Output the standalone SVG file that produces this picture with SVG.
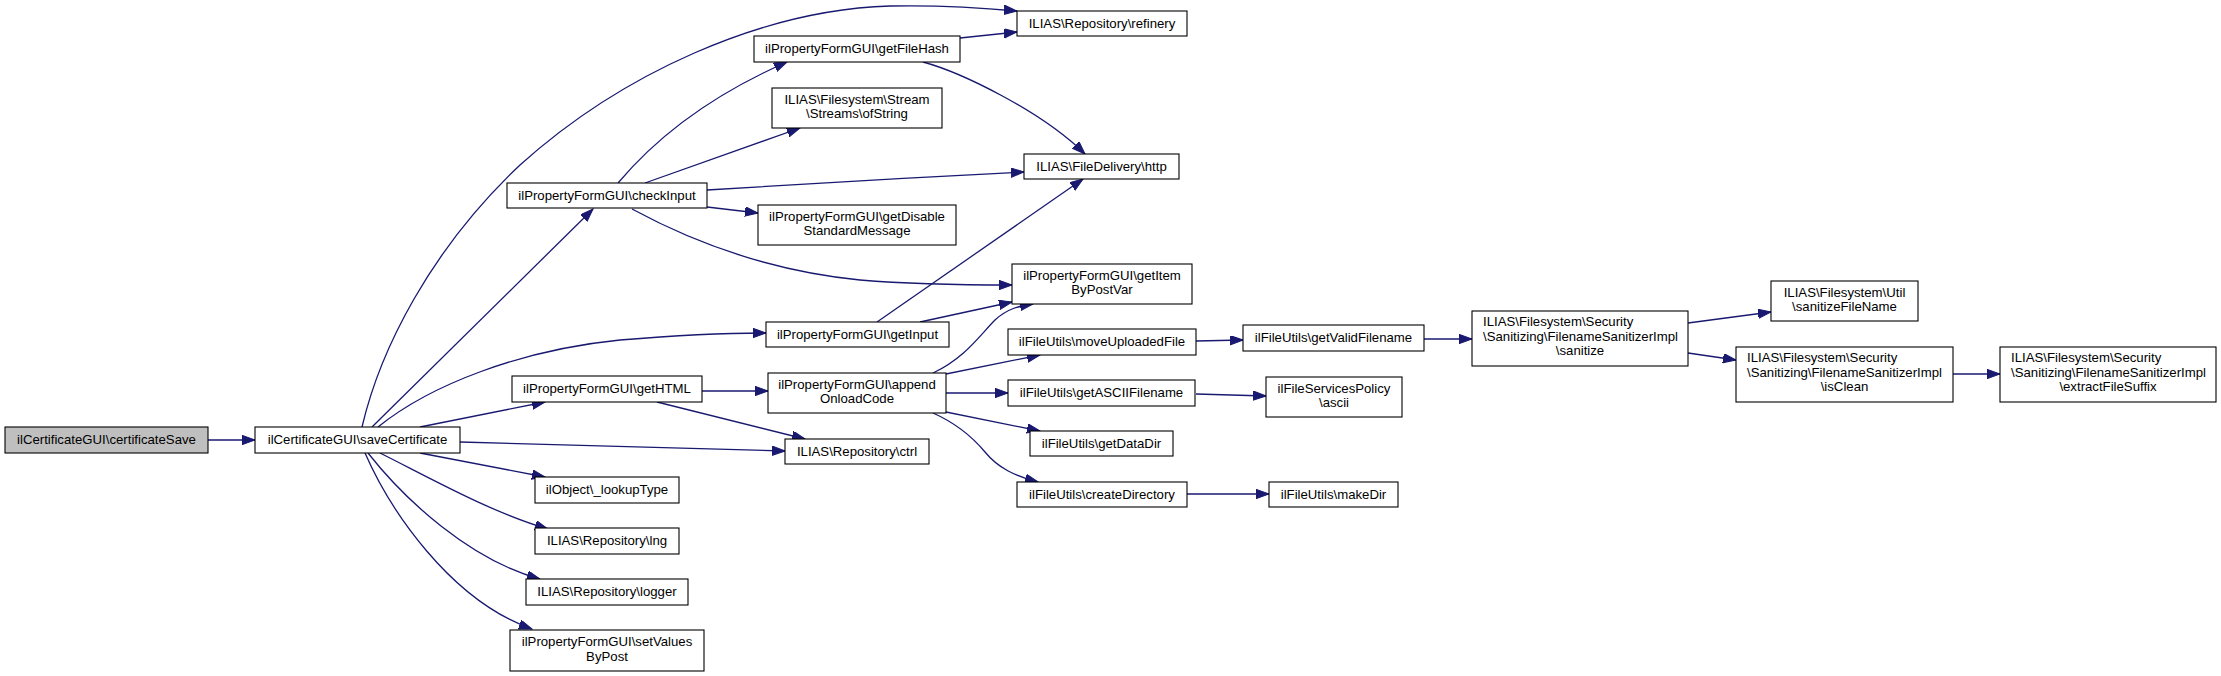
<svg xmlns="http://www.w3.org/2000/svg" width="2221" height="676" viewBox="0 0 2221 676">
<style>
.n rect{fill:#fff;stroke:#000;stroke-width:1.1}
.n.root rect{fill:#bfbfbf}
.n text{font-family:"Liberation Sans",Arial,sans-serif;font-size:13.2px;fill:#000;text-anchor:middle}
.n text.l{text-anchor:start}
#edges path{fill:none;stroke:#191970;stroke-width:1.3;marker-end:url(#ah)}
</style>
<defs>
<marker id="ah" markerWidth="14" markerHeight="10" refX="13" refY="4.7" orient="auto" markerUnits="userSpaceOnUse"><path d="M0,0 L13,4.7 L0,9.4 z" fill="#191970" stroke="#191970" stroke-width="1"/></marker>
</defs>
<rect width="2221" height="676" fill="#fff"/>
<g id="edges">
<path d="M208,440 L255,440"/>
<path d="M362,427 C380,350 430,250 520,165 C620,75 760,10 890,6 C940,5 985,8 1017,11"/>
<path d="M372,427 L593,209"/>
<path d="M378,427 C430,385 520,350 620,340 C680,335 730,333 766,333"/>
<path d="M420,427 L545,402"/>
<path d="M460,442 C600,445 700,449 785,451"/>
<path d="M420,453 L545,477"/>
<path d="M380,453 C430,478 490,512 548,529"/>
<path d="M368,453 C405,500 470,560 540,579"/>
<path d="M365,453 C390,510 450,600 532,629"/>
<path d="M618,183 C650,145 700,100 787,62"/>
<path d="M645,183 L800,128"/>
<path d="M707,190 C800,184 920,177 1024,172"/>
<path d="M707,207 L758,213"/>
<path d="M632,209 C680,235 760,270 860,280 C920,285 970,285 1012,285"/>
<path d="M960,38 L1017,32"/>
<path d="M923,62 C960,72 1040,110 1085,154"/>
<path d="M877,322 L1083,179"/>
<path d="M920,322 L1012,302"/>
<path d="M933,373 C965,358 980,335 995,320 C1008,308 1020,306 1033,304"/>
<path d="M702,391 L768,391"/>
<path d="M657,402 L805,439"/>
<path d="M946,374 L1040,355"/>
<path d="M946,393 L1008,393"/>
<path d="M946,412 L1040,431"/>
<path d="M933,413 C960,425 975,440 985,452 C998,468 1015,476 1038,482"/>
<path d="M1196,341 L1243,340"/>
<path d="M1424,339 L1472,339"/>
<path d="M1196,394 L1266,396"/>
<path d="M1187,494 L1269,494"/>
<path d="M1688,323 L1771,312"/>
<path d="M1688,353 L1736,360"/>
<path d="M1953,374 L2000,374"/>
</g>
<g id="n0" class="n root"><rect x="5" y="427" width="203" height="26"/><text x="106.5" y="444">ilCertificateGUI\certificateSave</text></g>
<g id="n1" class="n"><rect x="255" y="427" width="205" height="26"/><text x="357.5" y="444">ilCertificateGUI\saveCertificate</text></g>
<g id="n2" class="n"><rect x="1017" y="11" width="170" height="25"/><text x="1102" y="27.5">ILIAS\Repository\refinery</text></g>
<g id="n3" class="n"><rect x="754" y="36" width="206" height="26"/><text x="857" y="53">ilPropertyFormGUI\getFileHash</text></g>
<g id="n4" class="n"><rect x="772" y="88" width="170" height="40"/><text x="857" y="103.6">ILIAS\Filesystem\Stream</text><text x="857" y="118.1">\Streams\ofString</text></g>
<g id="n5" class="n"><rect x="1024" y="154" width="155" height="25"/><text x="1101.5" y="170.5">ILIAS\FileDelivery\http</text></g>
<g id="n6" class="n"><rect x="758" y="205" width="198" height="40"/><text x="857" y="220.6">ilPropertyFormGUI\getDisable</text><text x="857" y="235.1">StandardMessage</text></g>
<g id="n7" class="n"><rect x="1012" y="264" width="180" height="40"/><text x="1102" y="279.6">ilPropertyFormGUI\getItem</text><text x="1102" y="294.1">ByPostVar</text></g>
<g id="n8" class="n"><rect x="507" y="183" width="200" height="25"/><text x="607" y="199.5">ilPropertyFormGUI\checkInput</text></g>
<g id="n9" class="n"><rect x="766" y="322" width="183" height="25"/><text x="857.5" y="338.5">ilPropertyFormGUI\getInput</text></g>
<g id="n10" class="n"><rect x="512" y="376" width="190" height="26"/><text x="607" y="393">ilPropertyFormGUI\getHTML</text></g>
<g id="n11" class="n"><rect x="768" y="373" width="178" height="40"/><text x="857" y="388.6">ilPropertyFormGUI\append</text><text x="857" y="403.1">OnloadCode</text></g>
<g id="n12" class="n"><rect x="785" y="439" width="144" height="25"/><text x="857" y="455.5">ILIAS\Repository\ctrl</text></g>
<g id="n13" class="n"><rect x="535" y="477" width="144" height="26"/><text x="607" y="494">ilObject\_lookupType</text></g>
<g id="n14" class="n"><rect x="535" y="528" width="144" height="26"/><text x="607" y="545">ILIAS\Repository\lng</text></g>
<g id="n15" class="n"><rect x="526" y="579" width="162" height="26"/><text x="607" y="596">ILIAS\Repository\logger</text></g>
<g id="n16" class="n"><rect x="510" y="630" width="194" height="41"/><text x="607" y="646.1">ilPropertyFormGUI\setValues</text><text x="607" y="660.6">ByPost</text></g>
<g id="n17" class="n"><rect x="1008" y="329" width="188" height="26"/><text x="1102" y="346">ilFileUtils\moveUploadedFile</text></g>
<g id="n18" class="n"><rect x="1008" y="380" width="187" height="26"/><text x="1101.5" y="397">ilFileUtils\getASCIIFilename</text></g>
<g id="n19" class="n"><rect x="1030" y="431" width="143" height="25"/><text x="1101.5" y="447.5">ilFileUtils\getDataDir</text></g>
<g id="n20" class="n"><rect x="1017" y="482" width="170" height="25"/><text x="1102" y="498.5">ilFileUtils\createDirectory</text></g>
<g id="n21" class="n"><rect x="1243" y="325" width="181" height="26"/><text x="1333.5" y="342">ilFileUtils\getValidFilename</text></g>
<g id="n22" class="n"><rect x="1266" y="377" width="136" height="40"/><text x="1334" y="392.6">ilFileServicesPolicy</text><text x="1334" y="407.1">\ascii</text></g>
<g id="n23" class="n"><rect x="1269" y="482" width="129" height="25"/><text x="1333.5" y="498.5">ilFileUtils\makeDir</text></g>
<g id="n24" class="n"><rect x="1472" y="311" width="216" height="55"/><text class="l" x="1483" y="326">ILIAS\Filesystem\Security</text><text class="l" x="1483" y="340.5">\Sanitizing\FilenameSanitizerImpl</text><text x="1580" y="355">\sanitize</text></g>
<g id="n25" class="n"><rect x="1771" y="281" width="147" height="40"/><text x="1844.5" y="296.6">ILIAS\Filesystem\Util</text><text x="1844.5" y="311.1">\sanitizeFileName</text></g>
<g id="n26" class="n"><rect x="1736" y="347" width="217" height="55"/><text class="l" x="1747" y="362">ILIAS\Filesystem\Security</text><text class="l" x="1747" y="376.5">\Sanitizing\FilenameSanitizerImpl</text><text x="1844.5" y="391">\isClean</text></g>
<g id="n27" class="n"><rect x="2000" y="347" width="216" height="55"/><text class="l" x="2011" y="362">ILIAS\Filesystem\Security</text><text class="l" x="2011" y="376.5">\Sanitizing\FilenameSanitizerImpl</text><text x="2108" y="391">\extractFileSuffix</text></g>
</svg>
